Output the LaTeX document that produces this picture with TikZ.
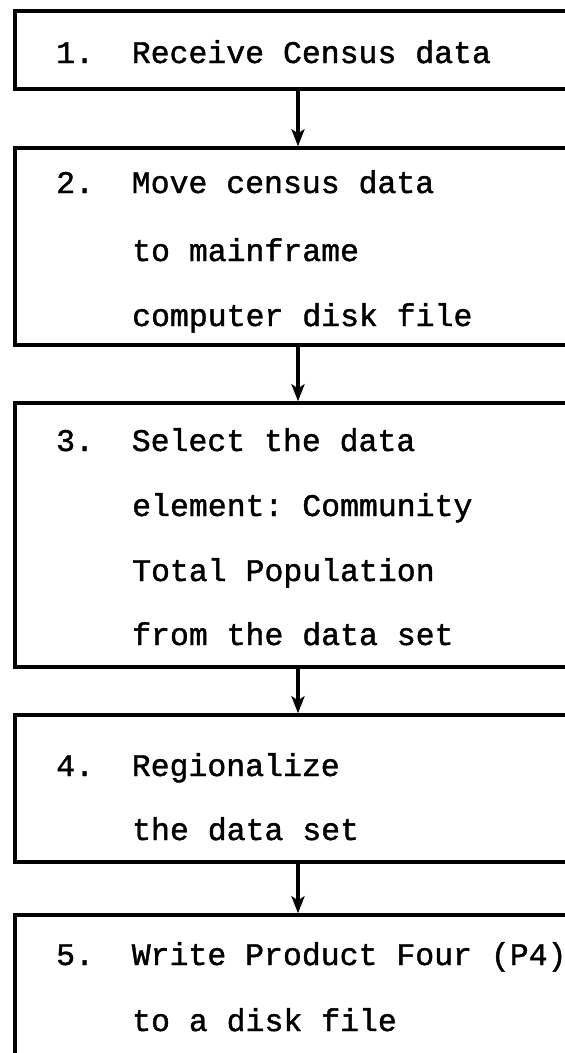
\documentclass[tikz,border=0pt]{standalone}
\usepackage{fontspec}
\setmonofont[FakeBold=1.3]{Liberation Mono}
\usetikzlibrary{arrows.meta}
\tikzset{
  stepbox/.style={draw=black, line width=3.4pt, rectangle, inner sep=0pt, minimum width=566pt},
  steptext/.style={anchor=base west, inner sep=0pt, font=\ttfamily\fontsize{31.5}{36}\selectfont},
  flow/.style={line width=3.4pt, -{Stealth[length=17pt, width=13pt, inset=4pt]}}
}
\begin{document}
\begin{tikzpicture}[x=1pt, y=-1pt]
  \useasboundingbox (0,0) rectangle (565,1053);
  \clip (0,0) rectangle (565,1053);
  \fill[white] (0,0) rectangle (565,1053);

  % process boxes (right edges run past the page)
  \node[stepbox, minimum height=78pt]  (b1) at (298,50)   {};
  \node[stepbox, minimum height=197pt] (b2) at (298,246.5) {};
  \node[stepbox, minimum height=264pt] (b3) at (298,535)  {};
  \node[stepbox, minimum height=147pt] (b4) at (298,788.5) {};
  \node[stepbox, minimum height=170pt] (b5) at (298,1000) {};

  % step texts
  \node[steptext] (t1a) at (56,63)   {1.\ \ Receive Census data};
  \node[steptext] (t2a) at (56,193)  {2.\ \ Move census data};
  \node[steptext] (t2b) at (132,261) {to mainframe};
  \node[steptext] (t2c) at (132,326) {computer disk file};
  \node[steptext] (t3a) at (56,451)  {3.\ \ Select the data};
  \node[steptext] (t3b) at (132,516) {element: Community};
  \node[steptext] (t3c) at (132,581) {Total Population};
  \node[steptext] (t3d) at (132,645) {from the data set};
  \node[steptext] (t4a) at (56,776)  {4.\ \ Regionalize};
  \node[steptext] (t4b) at (132,840) {the data set};
  \node[steptext] (t5a) at (56,965)  {5.\ \ Write Product Four (P4)};
  \node[steptext] (t5b) at (132,1031) {to a disk file};

  % connectors
  \draw[flow] (b1.south) -- (b2.north);
  \draw[flow] (b2.south) -- (b3.north);
  \draw[flow] (b3.south) -- (b4.north);
  \draw[flow] (b4.south) -- (b5.north);
\end{tikzpicture}
\end{document}
